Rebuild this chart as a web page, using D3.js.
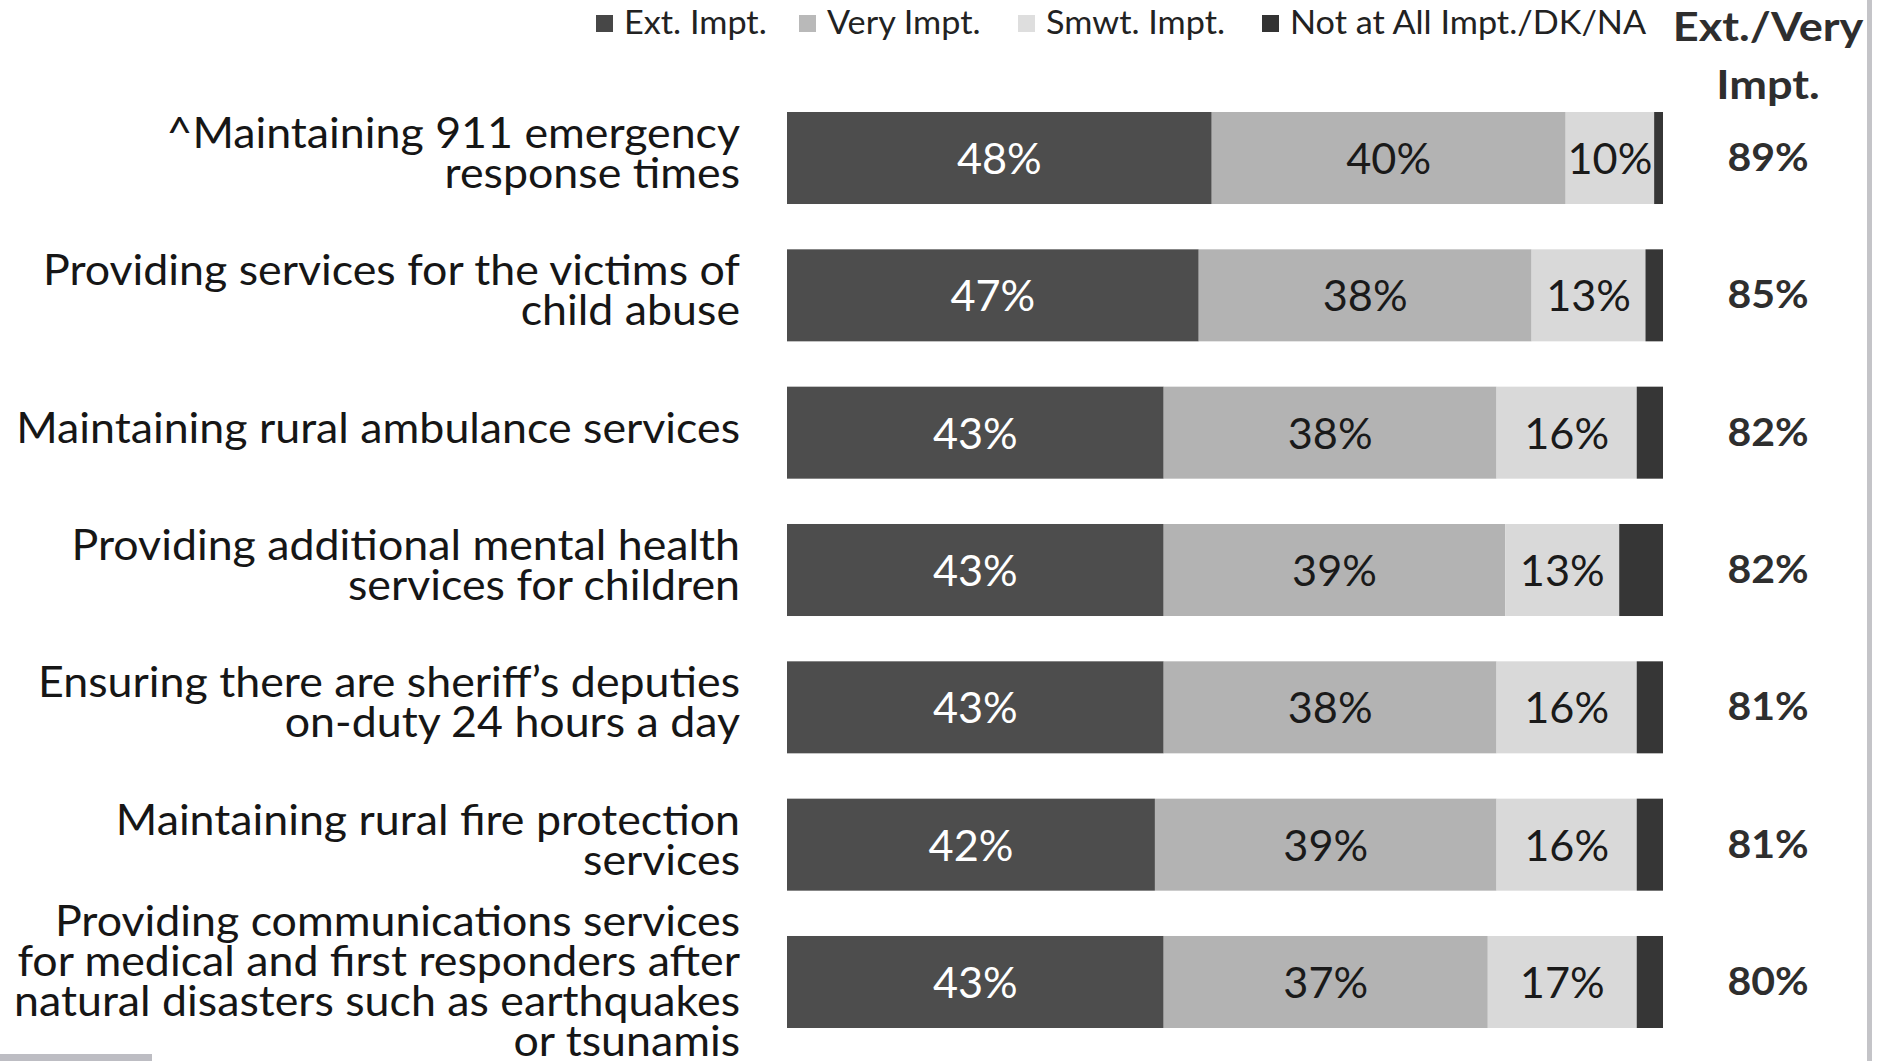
<!DOCTYPE html>
<html><head><meta charset="utf-8">
<script src="https://cdn.jsdelivr.net/npm/d3@7"></script>
<style>
html,body{margin:0;padding:0;background:#fff;}
svg{display:block;}
text{font-family:Lato,"Open Sans",sans-serif;}
</style></head>
<body>
<svg id="chart" width="1881" height="1061"></svg>
<script>
const categories = [
  "^Maintaining 911 emergency|response times",
  "Providing services for the victims of|child abuse",
  "Maintaining rural ambulance services",
  "Providing additional mental health|services for children",
  "Ensuring there are sheriff\u2019s deputies|on-duty 24 hours a day",
  "Maintaining rural fire protection|services",
  "Providing communications services|for medical and first responders after|natural disasters such as earthquakes|or tsunamis"
];
const seriesNames = ["Ext. Impt.", "Very Impt.", "Smwt. Impt.", "Not at All Impt./DK/NA"];
const extImpt  = [48, 47, 43, 43, 43, 42, 43];
const veryImpt = [40, 38, 38, 39, 38, 39, 37];
const smwtImpt = [10, 13, 16, 13, 16, 16, 17];
const notAtAll = [1, 2, 3, 5, 3, 3, 3];
const extVery  = [89, 85, 82, 82, 81, 81, 80];
const totalHeader = ["Ext./Very", "Impt."];

const colors = ["#4d4d4d", "#b3b3b3", "#d9d9d9", "#363636"];
const legendColors = ["#474747", "#b9b9b9", "#dedede", "#333333"];
const labelColors = ["#ffffff", "#1a1a1a", "#1a1a1a", "#ffffff"];

const svg = d3.select("#chart");
const x = d3.scaleLinear().domain([0, 100]).range([787, 1663]);
const y = d3.scaleBand().domain(d3.range(categories.length)).range([112, 1028]).paddingInner(0.33).paddingOuter(0);

const rows = categories.map((c, i) => {
  const vals = [extImpt[i], veryImpt[i], smwtImpt[i], notAtAll[i]];
  const sum = vals.reduce((a, b) => a + b, 0);
  let acc = 0;
  return vals.map((v, k) => {
    const v0 = acc / sum * 100; acc += v; const v1 = acc / sum * 100;
    return {row: i, k, v, x0: v0, x1: v1};
  });
});

// scan artifacts
svg.append("rect").attr("x", 1867).attr("y", 0).attr("width", 5).attr("height", 1061).attr("fill", "#c4c4c8");
svg.append("rect").attr("x", 0).attr("y", 1054).attr("width", 152).attr("height", 7).attr("fill", "#bdbdc3");

// bars
const g = svg.append("g");
rows.forEach(r => {
  g.selectAll(null).data(r).enter().append("rect")
    .attr("x", d => x(d.x0))
    .attr("y", d => y(d.row))
    .attr("width", d => x(d.x1) - x(d.x0))
    .attr("height", y.bandwidth())
    .attr("fill", d => colors[d.k]);
  g.selectAll(null).data(r.filter(d => d.k < 3)).enter().append("text")
    .attr("transform", d => `translate(${(x(d.x0) + x(d.x1)) / 2},${y(d.row) + y.bandwidth() / 2 + 16}) scale(1.03,1)`)
    .attr("text-anchor", "middle")
    .attr("font-size", 42)
    .attr("fill", d => labelColors[d.k])
    .text(d => d.v + "%");
});

// category labels
const labelRight = 740, labelLeft = 14;
const labelTexts = [];
categories.forEach((c, i) => {
  const lines = c.split("|");
  const cy = y(i) + y.bandwidth() / 2;
  const lh = 40;
  const t = svg.append("text")
    .attr("text-anchor", "end")
    .attr("font-size", 42)
    .attr("fill", "#161616");
  lines.forEach((ln, j) => {
    t.append("tspan").attr("x", 0)
      .attr("y", cy - (lines.length - 1) * lh / 2 + j * lh + (lines.length > 2 ? 14 : 10))
      .text(ln);
  });
  labelTexts.push(t);
});
let maxW = 0;
labelTexts.forEach(t => t.selectAll("tspan").each(function() { maxW = Math.max(maxW, this.getComputedTextLength()); }));
const sx = (labelRight - labelLeft) / maxW;
labelTexts.forEach(t => t.attr("transform", `translate(${labelRight},0) scale(${sx},1)`));

// right column
svg.selectAll(".tot").data(extVery).enter().append("text")
  .attr("transform", (d, i) => `translate(1768,${y(i) + y.bandwidth() / 2 + 13}) scale(1.08,1)`)
  .attr("text-anchor", "middle")
  .attr("font-size", 38)
  .attr("font-weight", "bold")
  .attr("fill", "#2e2e2e")
  .text(d => d + "%");

svg.selectAll(".hdr").data(totalHeader).enter().append("text")
  .attr("transform", (d, i) => `translate(1768,${41 + i * 58}) scale(1.1,1)`)
  .attr("text-anchor", "middle")
  .attr("font-size", 41)
  .attr("font-weight", "bold")
  .attr("fill", "#2e2e2e")
  .text(d => d);

// legend
const legendX = [596, 799, 1018, 1262];
const lg = svg.append("g");
seriesNames.forEach((n, k) => {
  lg.append("rect").attr("x", legendX[k]).attr("y", 15).attr("width", 17).attr("height", 17).attr("fill", legendColors[k]);
  lg.append("text").attr("transform", `translate(${legendX[k] + 28},34) scale(1.07,1)`)
    .attr("font-size", 32).attr("fill", "#222").text(n);
});
</script>
</body></html>
